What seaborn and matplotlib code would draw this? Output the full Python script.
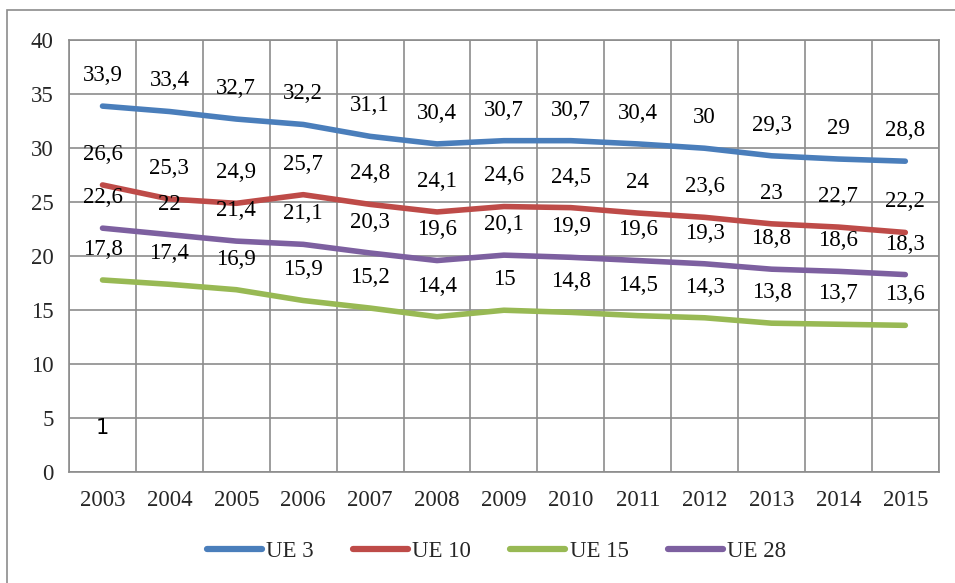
import matplotlib
matplotlib.use("Agg")
import matplotlib.pyplot as plt
import seaborn as sns
import pandas as pd
from matplotlib.patches import Rectangle
from matplotlib.lines import Line2D

years = [2003, 2004, 2005, 2006, 2007, 2008, 2009, 2010, 2011, 2012, 2013, 2014, 2015]
ue3 = [33.9, 33.4, 32.7, 32.2, 31.1, 30.4, 30.7, 30.7, 30.4, 30.0, 29.3, 29.0, 28.8]
ue10 = [26.6, 25.3, 24.9, 25.7, 24.8, 24.1, 24.6, 24.5, 24.0, 23.6, 23.0, 22.7, 22.2]
ue15 = [17.8, 17.4, 16.9, 15.9, 15.2, 14.4, 15.0, 14.8, 14.5, 14.3, 13.8, 13.7, 13.6]
ue28 = [22.6, 22.0, 21.4, 21.1, 20.3, 19.6, 20.1, 19.9, 19.6, 19.3, 18.8, 18.6, 18.3]
series_names = ["UE 3", "UE 10", "UE 15", "UE 28"]
series_vals = [ue3, ue10, ue15, ue28]
colors = ["#4A7EBB", "#BE4B48", "#98B954", "#7D60A0"]
y_ticks = [0, 5, 10, 15, 20, 25, 30, 35, 40]

sns.set_style("white")
plt.rcParams['font.family'] = ['Liberation Serif', 'DejaVu Serif']

rows = []
for name, vals in zip(series_names, series_vals):
    for i, v in enumerate(vals):
        rows.append({"x": i, "value": v, "series": name})
df = pd.DataFrame(rows)

FS = 16.5

fig = plt.figure(figsize=(9.55, 5.83), dpi=100)
ax = fig.add_axes([0.0723, 0.190, 0.9107, 0.741])

sns.lineplot(data=df, x="x", y="value", hue="series", hue_order=series_names,
             palette=colors, linewidth=4, legend=False, ax=ax,
             solid_capstyle="round", zorder=3)

def fmt(v):
    s = f"{v:.1f}"
    if s.endswith(".0"):
        s = s[:-2]
    return s.replace(".", ",")

for vals in series_vals:
    for i, v in enumerate(vals):
        ax.annotate(fmt(v), (i, v), xytext=(0, 22), textcoords="offset points",
                    ha="center", va="center", fontsize=FS, color="black", zorder=4)

ax.text(0, 4.1, "1", ha="center", va="center", fontsize=15,
        family=["DejaVu Sans"], color="black")

ax.set_xlim(-0.5, 12.5)
ax.set_ylim(0, 40)
ax.set_yticks(y_ticks)
ax.set_yticklabels([str(t) for t in y_ticks], fontsize=FS)
ax.set_xticks(range(len(years)))
ax.set_xticklabels([str(y) for y in years], fontsize=FS)
ax.set_xticks([i - 0.5 for i in range(len(years) + 1)], minor=True)
ax.tick_params(axis="x", which="major", length=0, pad=13)
ax.tick_params(axis="x", which="minor", length=6, color="#868686", width=1.2, direction="out")
ax.tick_params(axis="y", which="major", length=6, color="#868686", width=1.2, direction="out", pad=5)
ax.grid(True, axis="y", which="major", color="#8c8c8c", linewidth=1.2)
ax.grid(True, axis="x", which="minor", color="#8c8c8c", linewidth=1.2)
ax.grid(False, axis="x", which="major")
ax.set_axisbelow(True)
for sp in ax.spines.values():
    sp.set_color("#8c8c8c")
    sp.set_linewidth(1.2)
ax.set_xlabel("")
ax.set_ylabel("")

handles = [Line2D([0], [0], color=c, linewidth=4.5, solid_capstyle="round") for c in colors]
fig.legend(handles, series_names, loc="center", bbox_to_anchor=(0.52, 0.054), ncol=4,
           frameon=False, fontsize=FS, handlelength=2.4, handletextpad=0.2,
           columnspacing=1.7)

fig.patches.append(Rectangle((0.0073, -0.2), 1.2, 0.2 + 0.983, transform=fig.transFigure,
                             fill=False, edgecolor="#8c8c8c", linewidth=1.2))

fig.savefig("out.png", dpi=100)
